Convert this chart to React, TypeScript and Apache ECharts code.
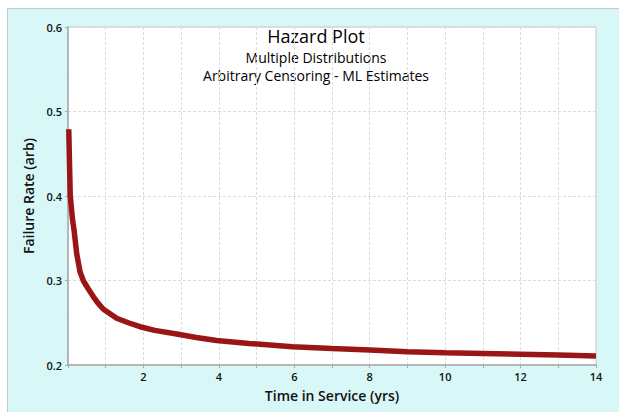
import React, { useEffect, useRef } from "react";
import * as echarts from "echarts";

const timeYrs = [0.02, 0.06, 0.12, 0.16, 0.23, 0.32, 0.41, 0.54, 0.67, 0.8, 0.94, 1.29, 1.6, 1.91, 2.3, 2.88, 3.4, 3.94, 4.8, 5.95, 7, 8, 9, 10, 11, 12, 13, 14];
const failureRate = [0.479, 0.4, 0.372, 0.36, 0.332, 0.31, 0.2994, 0.29, 0.281, 0.273, 0.266, 0.2553, 0.25, 0.2453, 0.241, 0.2367, 0.2325, 0.229, 0.2255, 0.2217, 0.2195, 0.2178, 0.2158, 0.2146, 0.2137, 0.2127, 0.2117, 0.2107];

const titleLines = ["Hazard Plot", "Multiple Distributions", "Arbitrary Censoring - ML Estimates"];
const xName = "Time in Service (yrs)";
const yName = "Failure Rate (arb)";

const FONT = "'Open Sans', 'Noto Sans', sans-serif";

function titleText(text: string, y: number, size: number) {
  return {
    type: "text",
    x: 316,
    y,
    style: {
      text,
      fontSize: size,
      fontWeight: "normal",
      fontFamily: FONT,
      fill: "#000",
      align: "center",
      verticalAlign: "middle",
      textAlign: "center",
      textVerticalAlign: "middle",
    },
  };
}

export default function App() {
  const ref = useRef<HTMLDivElement>(null);
  useEffect(() => {
    if (!ref.current) return;
    const chart = echarts.init(ref.current, null, { renderer: "svg" });
    const data = timeYrs.map((t, i) => [t, failureRate[i]]);
    chart.setOption({
      animation: false,
      backgroundColor: "transparent",
      textStyle: { fontFamily: FONT },
      grid: {
        left: 68,
        top: 27,
        right: 23,
        bottom: 47,
        show: true,
        backgroundColor: "#ffffff",
        borderColor: "#c4c4c4",
        borderWidth: 1,
      },
      graphic: [
        titleText(titleLines[0], 36, 18),
        titleText(titleLines[1], 57, 14),
        titleText(titleLines[2], 75, 14),
      ],
      xAxis: {
        type: "value",
        min: 0,
        max: 14,
        interval: 1,
        name: xName,
        nameLocation: "middle",
        nameGap: 23,
        nameTextStyle: { fontSize: 14, fontWeight: 600, color: "#111", fontFamily: FONT },
        axisLine: { show: true, lineStyle: { color: "#a8a8a8", width: 1.5 } },
        axisTick: {
          show: true,
          length: 3,
          interval: (index: number) => index % 2 === 0,
          lineStyle: { color: "#a8a8a8" },
        },
        axisLabel: {
          fontSize: 11,
          fontWeight: 600,
          color: "#111",
          margin: 6,
          fontFamily: FONT,
          formatter: (v: number) => (v > 0 && v % 2 === 0 ? String(v) : ""),
        },
        splitLine: { show: true, lineStyle: { color: "#dcdcdc", type: [3, 2], width: 1 } },
      },
      yAxis: {
        type: "value",
        min: 0.2,
        max: 0.6,
        interval: 0.1,
        name: yName,
        nameLocation: "middle",
        nameGap: 30,
        nameTextStyle: { fontSize: 14, fontWeight: 600, color: "#111", fontFamily: FONT },
        axisLine: { show: true, lineStyle: { color: "#a8a8a8", width: 1.5 } },
        axisTick: { show: true, length: 3, lineStyle: { color: "#a8a8a8" } },
        axisLabel: {
          fontSize: 11,
          fontWeight: 600,
          color: "#111",
          margin: 6,
          fontFamily: FONT,
          formatter: (v: number) => v.toFixed(1),
        },
        splitLine: { show: true, lineStyle: { color: "#dcdcdc", type: [3, 2], width: 1 } },
      },
      series: [
        {
          type: "line",
          data,
          showSymbol: false,
          smooth: false,
          lineStyle: { color: "#9a1616", width: 5.5 },
          itemStyle: { color: "#9a1616" },
        },
      ],
    });
    return () => chart.dispose();
  }, []);
  return (
    <div style={{ position: "fixed", left: 0, top: 0, width: 619, height: 412, background: "#ffffff" }}>
      <div
        style={{
          position: "absolute",
          left: 7,
          top: 8,
          width: 640,
          height: 420,
          background: "#d8f7f7",
          border: "1px solid #c8c8c8",
        }}
      />
      <div ref={ref} style={{ position: "absolute", left: 0, top: 0, width: 619, height: 412 }} />
    </div>
  );
}
